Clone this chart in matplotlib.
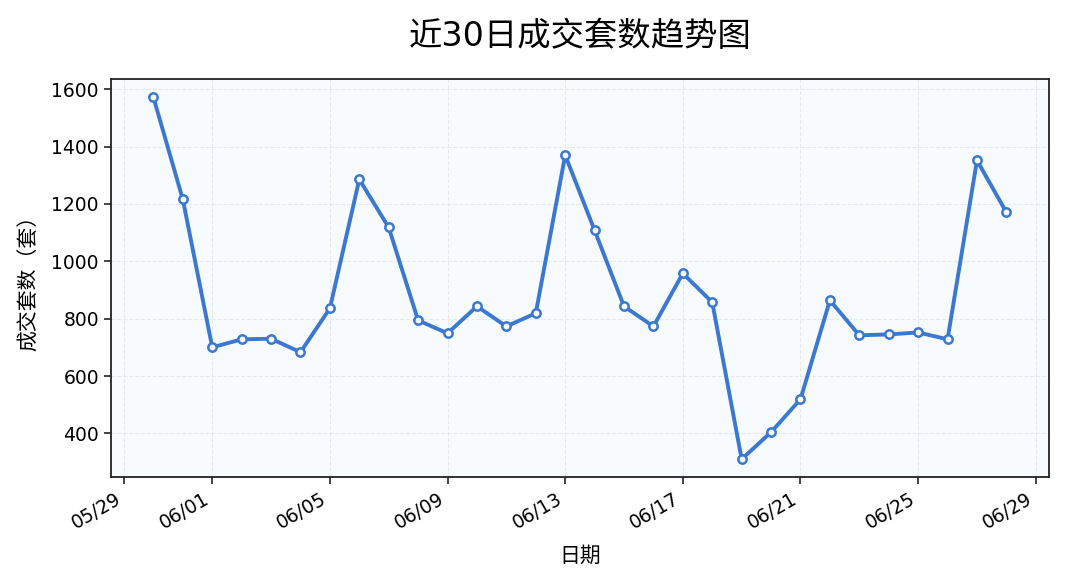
import numpy as np
import pandas as pd
import matplotlib
matplotlib.use("Agg")
import matplotlib.pyplot as plt
import matplotlib.dates as mdates

# digits from DejaVu, Chinese falls through to Noto CJK
plt.rcParams["font.family"] = ["DejaVu Sans", "Noto Sans CJK SC"]
plt.rcParams["axes.unicode_minus"] = False

# data
dates = pd.date_range("2024-05-30", "2024-06-28", freq="D")
deals = [1572, 1216, 700, 728, 730, 683, 836, 1286, 1118, 794,
         749, 843, 773, 819, 1370, 1108, 843, 773, 958, 857,
         310, 404, 519, 864, 742, 745, 752, 728, 1352, 1171]

title = "近30日成交套数趋势图"
xlabel = "日期"
ylabel = "成交套数（套）"

LINE = "#3a78d2"
CJK = ["Noto Sans CJK SC", "DejaVu Sans"]

fig, ax = plt.subplots(figsize=(10.65, 5.87), dpi=100)
fig.subplots_adjust(left=0.104, right=0.985, top=0.865, bottom=0.187)

ax.set_facecolor("#f8fbfe")
ax.plot(dates, deals, color=LINE, linewidth=2.8, marker="o",
        markersize=6, markerfacecolor="white", markeredgecolor=LINE,
        markeredgewidth=1.8, zorder=3)

ax.grid(True, linestyle="--", linewidth=0.8, color="#dde3ea", alpha=0.7)
ax.set_axisbelow(True)

ax.xaxis.set_major_locator(mdates.DayLocator(bymonthday=[1, 5, 9, 13, 17, 21, 25, 29]))
ax.xaxis.set_major_formatter(mdates.DateFormatter("%m/%d"))
plt.setp(ax.get_xticklabels(), rotation=30, ha="right")

ax.set_yticks([400, 600, 800, 1000, 1200, 1400, 1600])
ax.tick_params(labelsize=13.5, width=1.2, length=5, color="#222222")
for s in ax.spines.values():
    s.set_linewidth(1.3)
    s.set_color("#222222")

ax.set_title(title, fontsize=24, pad=24)
ax.set_xlabel(xlabel, fontsize=15, labelpad=9, family=CJK)
ax.set_ylabel(ylabel, fontsize=15, labelpad=8, family=CJK)

fig.savefig("out.png", dpi=100)
